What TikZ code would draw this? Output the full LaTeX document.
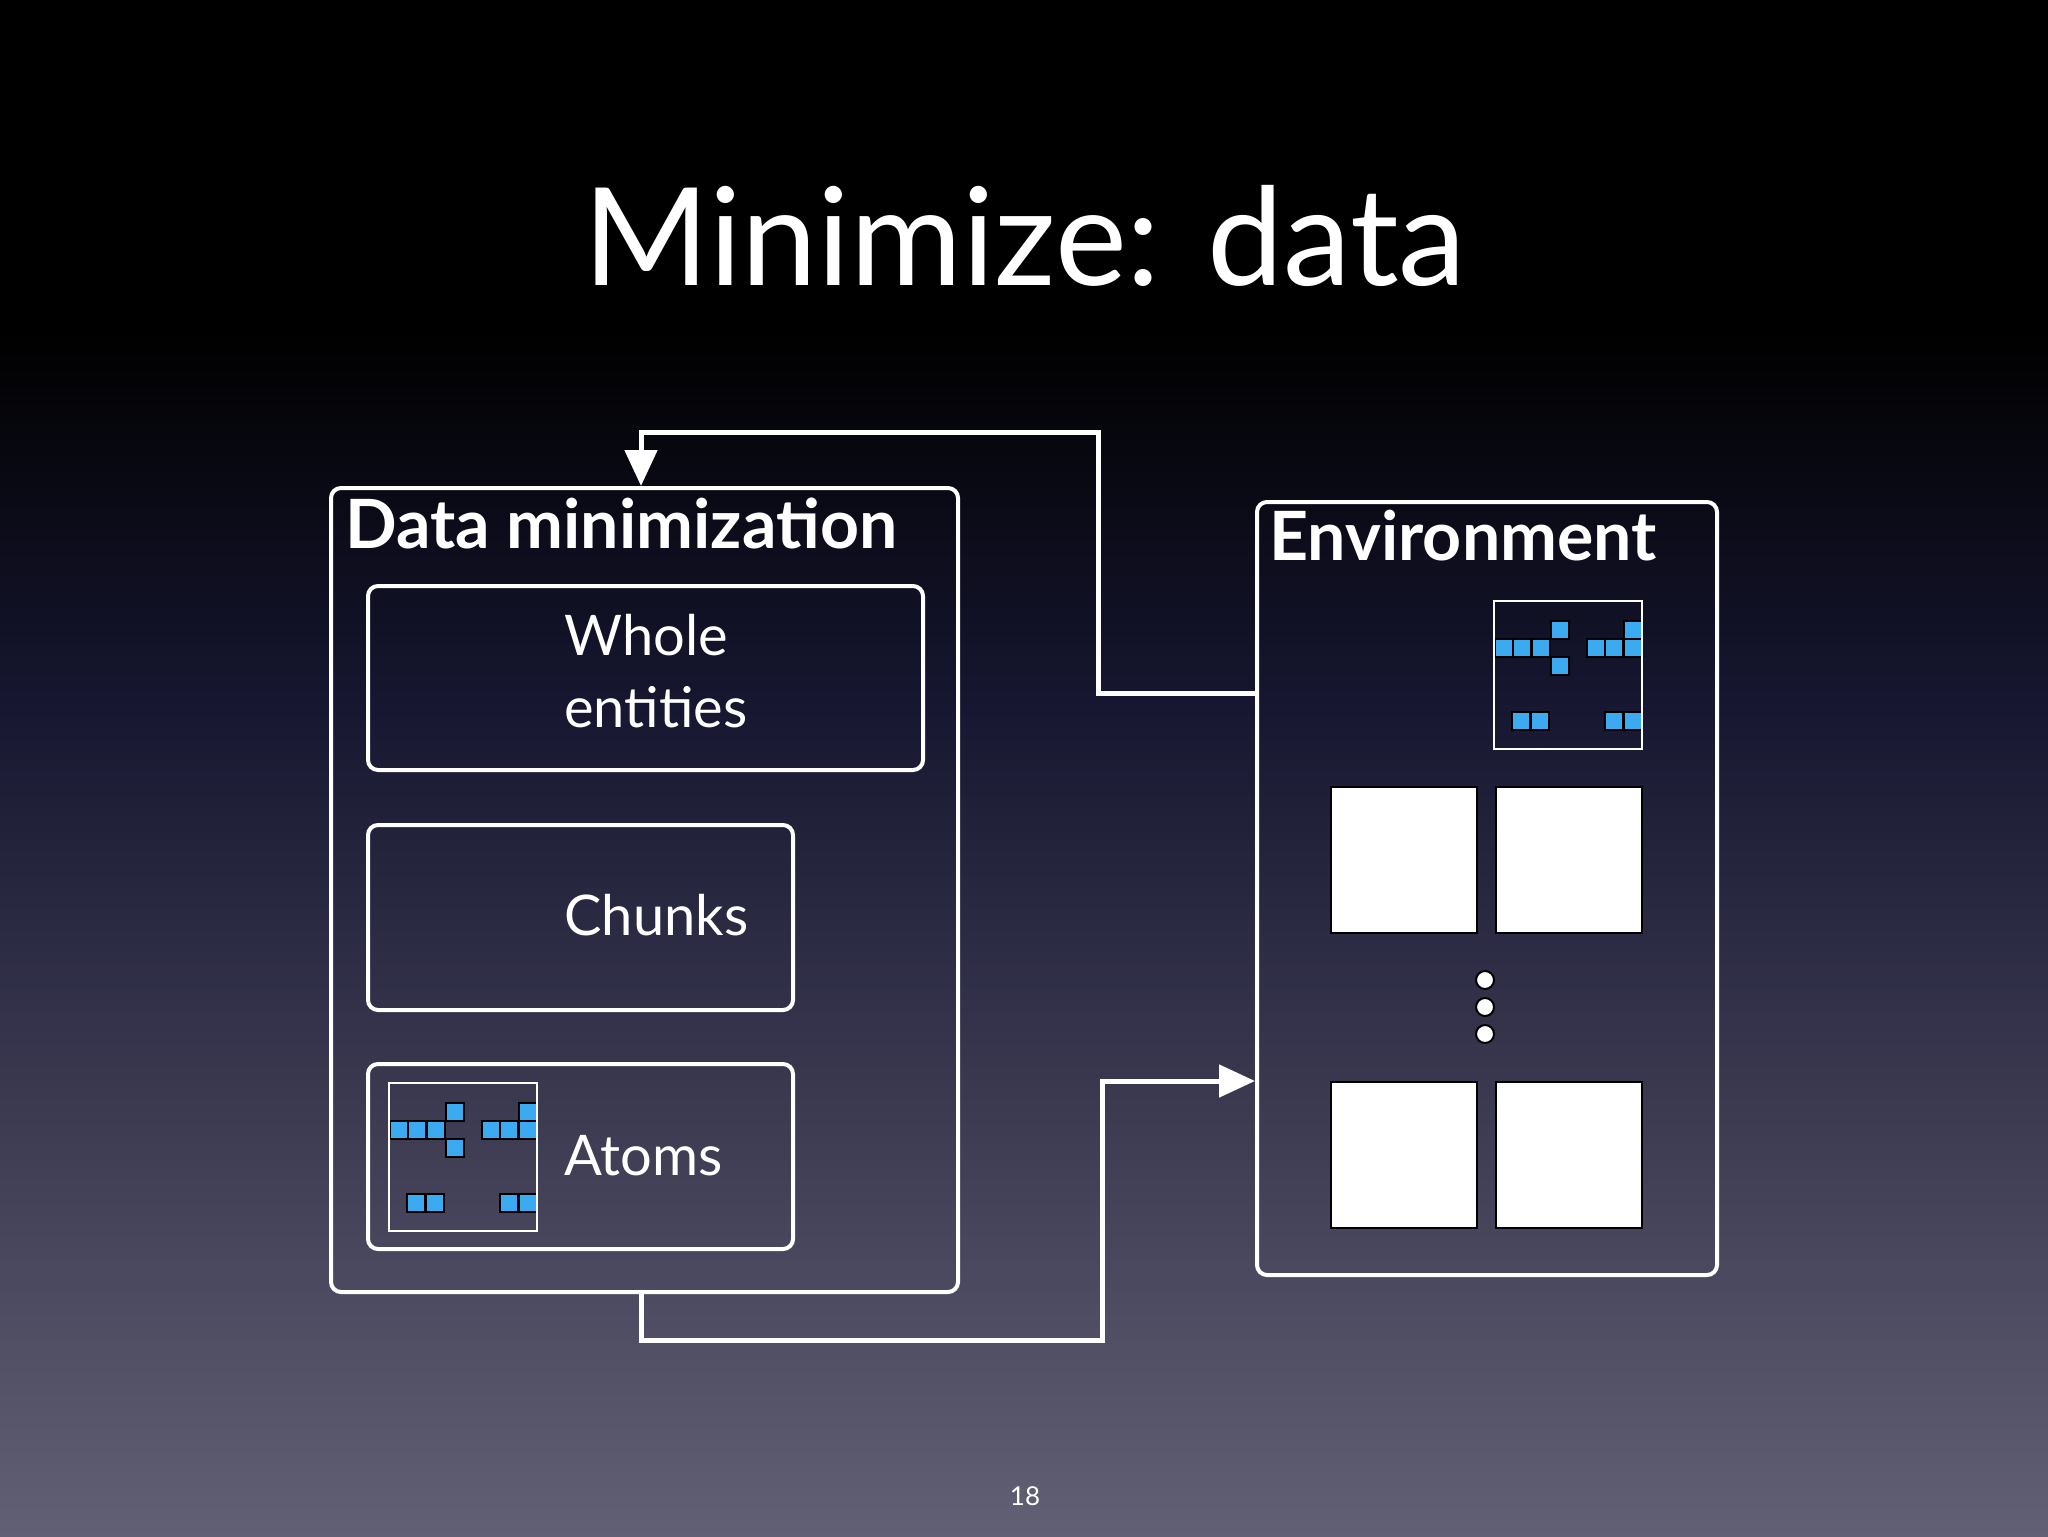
\documentclass[tikz,border=0pt]{standalone}
\usepackage{fontspec}
\setmainfont{Lato}
\usetikzlibrary{arrows.meta}
\definecolor{bgbot}{RGB}{98,96,116}
\definecolor{bgmid}{RGB}{22,22,48}
\definecolor{atom}{RGB}{60,170,240}
\tikzset{
  frame/.style={draw=white,line width=2pt,rounded corners=5pt},
  conn/.style={draw=white,line width=2.5pt,-{Triangle[length=18pt,width=16pt]}},
  cell/.style={fill=atom,draw=black,line width=0.6pt},
  lbl/.style={text=white,font=\fontsize{28}{36}\selectfont,anchor=base west,inner sep=0pt},
  blbl/.style={text=white,font=\bfseries\fontsize{34}{40}\selectfont,anchor=base west,inner sep=0pt},
}
\newcommand{\atomicon}[2]{%
  \begin{scope}[shift={(#1,#2)}]
    \foreach \x/\y in {1/38,19/38,38/38,57/20,57/56,93/38,111/38,130/20,130/38,18/111,37/111,111/111,130/111}
      {\path[cell] (\x,\y) rectangle ({min(\x+18,148)},\y+18);}
    \draw[white,line width=1pt] (0,0) rectangle (148,148);
  \end{scope}}
\begin{document}
\begin{tikzpicture}[x=0.5pt,y=-0.5pt]
\useasboundingbox (0,0) rectangle (2048,1536);
\fill[black] (0,0) rectangle (2048,330);
\shade[top color=black,bottom color=bgmid] (0,329) rectangle (2048,700);
\shade[top color=bgmid,bottom color=bgbot] (0,699) rectangle (2048,1536);
\node[text=white,font=\fontsize{68}{76}\selectfont,anchor=base,inner sep=0pt] (title) at (1025,285) {Minimize: data};
% left container
\node[frame,minimum width=313.5pt,minimum height=402pt,anchor=north west] (dm) at (329,486) {};
\node[blbl] (dmt) at (345,548) {Data minimization};
\node[frame,minimum width=277.5pt,minimum height=92pt,anchor=north west] (whole) at (366,584) {};
\node[lbl,align=left,anchor=north west] (wholet) at (564,614) {Whole\\entities};
\node[frame,minimum width=212.5pt,minimum height=92.5pt,anchor=north west] (chunks) at (366,823) {};
\node[lbl] (chunkst) at (564,935) {Chunks};
\node[frame,minimum width=212.5pt,minimum height=92.5pt,anchor=north west] (atoms) at (366,1062) {};
\node[lbl] (atomst) at (564,1175) {Atoms};
\atomicon{389}{1083}
% environment
\node[frame,minimum width=230pt,minimum height=386.5pt,anchor=north west] (env) at (1255,500) {};
\node[blbl] (envt) at (1269,560) {Environment};
\atomicon{1494}{601}
\foreach \x/\y [count=\i] in {1330/786,1495/786,1330/1081,1495/1081}
  \node[fill=white,draw=black,line width=1pt,minimum size=73pt,anchor=north west,inner sep=0pt] (sq\i) at (\x,\y) {};
\foreach \y [count=\i] in {980,1007,1034}
  \node[circle,fill=white,draw=black,line width=1pt,minimum size=9pt,inner sep=0pt] (dot\i) at (1485,\y) {};
% connectors
\coordinate (e1) at (1255,693);
\coordinate (d1) at (641,486);
\draw[conn] (e1) -| (1098,432) -| (d1);
\coordinate (d2) at (641,1290);
\coordinate (e2) at (1255,1081);
\draw[conn] (d2) |- (1102,1340) |- (e2);
\node[text=white,font=\fontsize{13}{15}\selectfont,anchor=base,inner sep=0pt] (pg) at (1025,1505) {18};
\end{tikzpicture}
\end{document}
